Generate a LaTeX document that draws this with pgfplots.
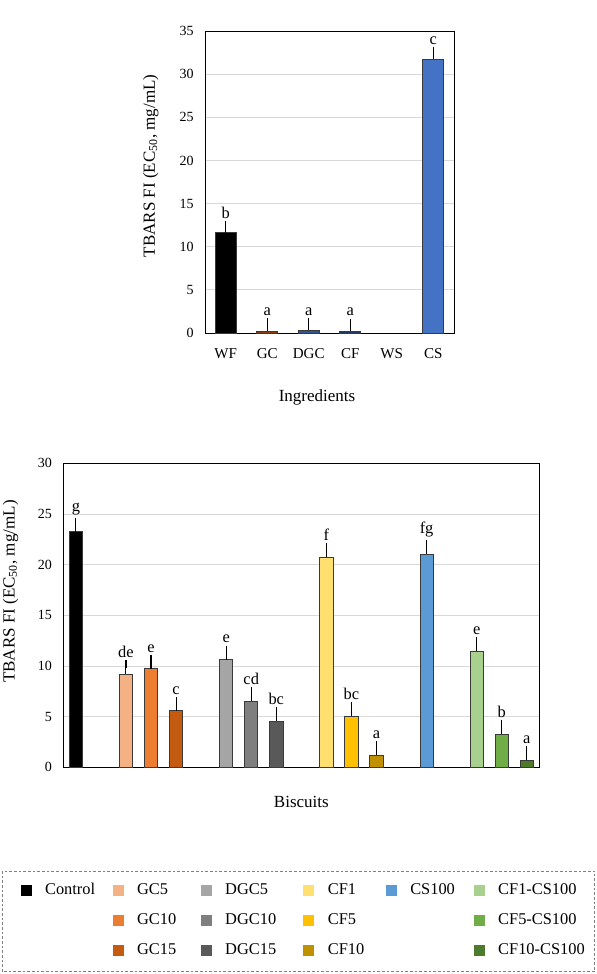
\documentclass[border=0pt]{standalone}
\usepackage{fontspec}
\setmainfont{Liberation Serif}
\usepackage{pgfplots}
\pgfplotsset{compat=1.18}
\definecolor{gridgray}{HTML}{D9D9D9}
\definecolor{barline}{HTML}{3A3A3A}
\definecolor{cWF}{HTML}{000000}
\definecolor{cGC}{HTML}{843C0C}
\definecolor{cDGC}{HTML}{2F5597}
\definecolor{cCF}{HTML}{1F3864}
\definecolor{cCS}{HTML}{4472C4}
\definecolor{cControl}{HTML}{000000}
\definecolor{cGCa}{HTML}{F4B183}
\definecolor{cGCb}{HTML}{ED7D31}
\definecolor{cGCc}{HTML}{C55A11}
\definecolor{cDGCa}{HTML}{A5A5A5}
\definecolor{cDGCb}{HTML}{7F7F7F}
\definecolor{cDGCc}{HTML}{595959}
\definecolor{cCFa}{HTML}{FFDF70}
\definecolor{cCFb}{HTML}{FFC000}
\definecolor{cCFc}{HTML}{BF9000}
\definecolor{cCSh}{HTML}{5B9BD5}
\definecolor{cMa}{HTML}{A9D18E}
\definecolor{cMb}{HTML}{70AD47}
\definecolor{cMc}{HTML}{4E7A2E}
\pgfplotsset{
  mybar/.style={ybar, bar shift=0pt, draw=barline, line width=0.6pt, fill=#1,
    error bars/y dir=plus, error bars/y explicit,
    error bars/error bar style={black, line width=0.8pt},
    error bars/error mark options={black, line width=0.8pt, mark size=2.9pt}},
  letters/.style={draw=none, mark=none, nodes near coords, point meta=explicit symbolic,
    nodes near coords style={anchor=south, inner sep=1pt, yshift=3.5pt, font=\fontsize{12.3}{14}\selectfont, black}},
  common/.style={scale only axis,
    major tick length=0pt, ymajorgrids, grid style={color=gridgray, line width=0.7pt},
    axis line style={black, line width=0.75pt},
    /pgf/number format/assume math mode=true,
    yticklabel style={font=\fontsize{10.5}{12}\selectfont, xshift=-5pt},
    xticklabel style={font=\fontsize{11.3}{13}\selectfont, yshift=-8pt},
    label style={font=\fontsize{12.75}{15}\selectfont},
  },
  sq/.style={legend image code/.code={\fill[#1] (0pt,-3.75pt) rectangle (7.5pt,3.75pt);}},
}
\begin{document}
\begin{tikzpicture}
\useasboundingbox (0pt,0pt) rectangle (447pt,-730.5pt);
% ---------------- Panel A ----------------
\begin{axis}[common,
  at={(153.75pt,-249.75pt)}, anchor=south west, width=186.75pt, height=226.5pt,
  xmin=-0.5, xmax=5.5, ymin=0, ymax=35, ytick={0,5,...,35},
  xtick={0,1,2,3,4,5}, xticklabels={WF,GC,DGC,CF,WS,CS},
  ylabel={TBARS FI (EC\textsubscript{50}, mg/mL)},
  ylabel style={at={(axis description cs:-0.218,0.553)}, anchor=center},
  xlabel={Ingredients},
  xlabel style={at={(axis description cs:0.45,-0.212)}, anchor=center},
  bar width=0.5,
]
\addplot[mybar=cWF] coordinates {(0,11.64) +- (0,0.92)};
\addplot[mybar=cGC] coordinates {(1,0.23) +- (0,1.04)};
\addplot[mybar=cDGC] coordinates {(2,0.31) +- (0,1.00)};
\addplot[mybar=cCF] coordinates {(3,0.23) +- (0,1.00)};
\addplot[mybar=cCS] coordinates {(5,31.74) +- (0,1.00)};
\addplot[letters] table[meta=lab] {
x y lab
0 12.56 b
1 1.27 a
2 1.31 a
3 1.23 a
5 32.74 c
};
\node[font=\fontsize{16}{18}\selectfont] at (axis description cs:0.924,1.07) {A};
\end{axis}
% ---------------- Panel B ----------------
\begin{axis}[common,
  at={(47.5pt,-575.5pt)}, anchor=south west, width=357pt, height=228pt,
  xmin=0, xmax=19, ymin=0, ymax=30, ytick={0,5,...,30},
  xtick=\empty,
  ylabel={TBARS FI (EC\textsubscript{50}, mg/mL)},
  ylabel style={at={(axis description cs:-0.111,0.578)}, anchor=center},
  xlabel={Biscuits},
  xlabel style={at={(axis description cs:0.5,-0.114)}, anchor=center},
  bar width=0.53,
  legend columns=6,
  legend cell align=left,
  legend style={draw=none, fill=none, inner sep=0pt, outer sep=0pt,
    at={(axis description cs:-0.0899,-0.3794)}, anchor=north west,
    font=\fontsize{12.3}{14}\selectfont,
    nodes={inner sep=0pt, text height=9pt, text depth=3pt},
    row sep=10.5pt,
    /tikz/every odd column/.append style={column sep=10.5pt},
    /tikz/every even column/.append style={column sep=0pt}},
]
\addplot[forget plot, mybar=cControl] coordinates {(0.5,23.26) +- (0,0.99)};
\addplot[forget plot, mybar=cGCa] coordinates {(2.5,9.21) +- (0,0.99)};
\addplot[forget plot, mybar=cGCb] coordinates {(3.5,9.74) +- (0,0.98)};
\addplot[forget plot, mybar=cGCc] coordinates {(4.5,5.59) +- (0,0.99)};
\addplot[forget plot, mybar=cDGCa] coordinates {(6.5,10.63) +- (0,1.01)};
\addplot[forget plot, mybar=cDGCb] coordinates {(7.5,6.51) +- (0,0.99)};
\addplot[forget plot, mybar=cDGCc] coordinates {(8.5,4.54) +- (0,0.99)};
\addplot[forget plot, mybar=cCFa] coordinates {(10.5,20.76) +- (0,1.02)};
\addplot[forget plot, mybar=cCFb] coordinates {(11.5,5.07) +- (0,0.98)};
\addplot[forget plot, mybar=cCFc] coordinates {(12.5,1.18) +- (0,1.02)};
\addplot[forget plot, mybar=cCSh] coordinates {(14.5,21.06) +- (0,1.01)};
\addplot[forget plot, mybar=cMa] coordinates {(16.5,11.45) +- (0,1.02)};
\addplot[forget plot, mybar=cMb] coordinates {(17.5,3.29) +- (0,0.99)};
\addplot[forget plot, mybar=cMc] coordinates {(18.5,0.69) +- (0,0.99)};
\addplot[forget plot, letters] table[meta=lab] {
x y lab
0.5 24.25 g
2.5 10.20 de
3.5 10.72 e
4.5 6.58 c
6.5 11.64 e
7.5 7.50 cd
8.5 5.53 bc
10.5 21.78 f
11.5 6.05 bc
12.5 2.20 a
14.5 22.07 fg
16.5 12.47 e
17.5 4.28 b
18.5 1.68 a
};
\node[font=\fontsize{16}{18}\selectfont] at (axis description cs:0.957,1.071) {B};
% legend (row-wise order)
\addlegendimage{sq=cControl}\addlegendentry{\makebox[50.6pt][l]{Control}}
\addlegendimage{sq=cGCa}\addlegendentry{\makebox[47.7pt][l]{GC5}}
\addlegendimage{sq=cDGCa}\addlegendentry{\makebox[58.6pt][l]{DGC5}}
\addlegendimage{sq=cCFa}\addlegendentry{\makebox[43.4pt][l]{CF1}}
\addlegendimage{sq=cCSh}\addlegendentry{\makebox[47.55pt][l]{CS100}}
\addlegendimage{sq=cMa}\addlegendentry{\makebox[75pt][l]{CF1-CS100}}
\addlegendimage{empty legend}\addlegendentry{}
\addlegendimage{sq=cGCb}\addlegendentry{GC10}
\addlegendimage{sq=cDGCb}\addlegendentry{DGC10}
\addlegendimage{sq=cCFb}\addlegendentry{CF5}
\addlegendimage{empty legend}\addlegendentry{}
\addlegendimage{sq=cMb}\addlegendentry{CF5-CS100}
\addlegendimage{empty legend}\addlegendentry{}
\addlegendimage{sq=cGCc}\addlegendentry{GC15}
\addlegendimage{sq=cDGCc}\addlegendentry{DGC15}
\addlegendimage{sq=cCFc}\addlegendentry{CF10}
\addlegendimage{empty legend}\addlegendentry{}
\addlegendimage{sq=cMc}\addlegendentry{CF10-CS100}
\end{axis}
% legend frame
\draw[color=gray, dashed, line width=0.75pt, dash pattern=on 2pt off 1.5pt] (1.5pt,-653.25pt) rectangle (446pt,-728.8pt);
\end{tikzpicture}
\end{document}
